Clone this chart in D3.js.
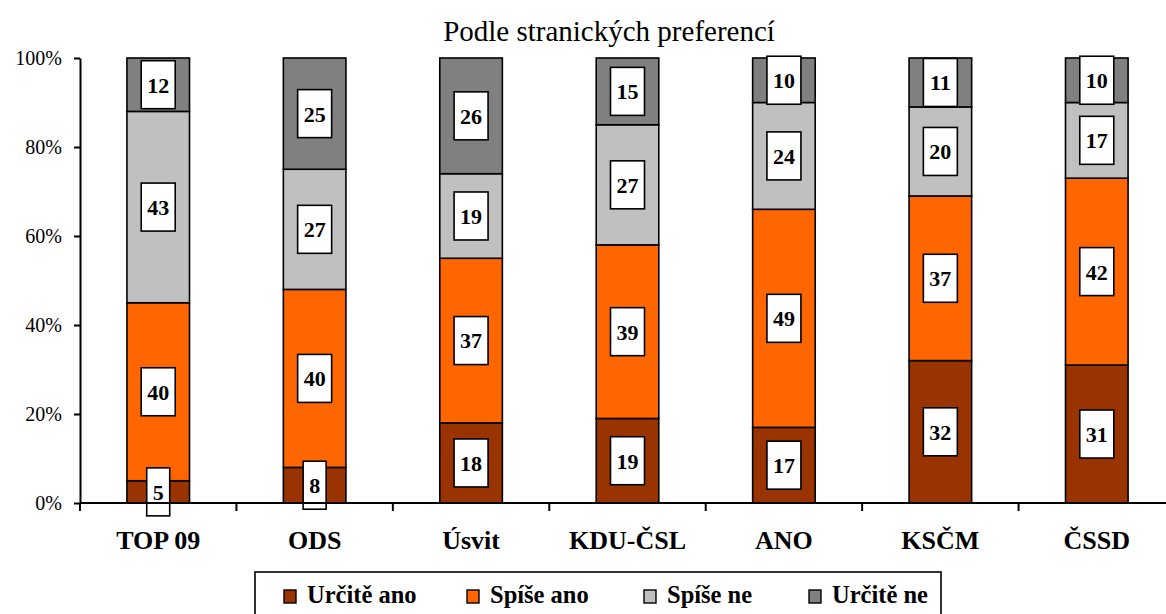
<!DOCTYPE html>
<html><head><meta charset="utf-8">
<script src="https://cdn.jsdelivr.net/npm/d3@7"></script>
<style>
html,body{margin:0;padding:0;background:#fff;}
svg{display:block;}
text{font-family:"Liberation Serif","Times New Roman",serif;}
</style></head>
<body>
<svg id="chart" width="1166" height="614"></svg>
<script>
const categories = ["TOP 09","ODS","Úsvit","KDU-ČSL","ANO","KSČM","ČSSD"];
const seriesNames = ["Určitě ano","Spíše ano","Spíše ne","Určitě ne"];
const seriesColors = ["#993300","#FF6600","#C0C0C0","#808080"];
const urciteAno = [5,8,18,19,17,32,31];
const spiseAno  = [40,40,37,39,49,37,42];
const spiseNe   = [43,27,19,27,24,20,17];
const urciteNe  = [12,25,26,15,10,11,10];
const yTicks = [0,0.2,0.4,0.6,0.8,1];
const subtitle = "Podle stranických preferencí";

const svg = d3.select("#chart");
const mLeft = 80, mRight = 1175, mTop = 58, mBottom = 503;

const rows = categories.map((c,i)=>({cat:c, "Určitě ano":urciteAno[i], "Spíše ano":spiseAno[i], "Spíše ne":spiseNe[i], "Určitě ne":urciteNe[i]}));
const stack = d3.stack().keys(seriesNames).offset(d3.stackOffsetExpand);
const series = stack(rows);

const x = d3.scaleBand().domain(categories).range([mLeft,mRight]).paddingInner(0.6).paddingOuter(0.3);
const y = d3.scaleLinear().domain([0,1]).range([mBottom,mTop]);
const color = d3.scaleOrdinal().domain(seriesNames).range(seriesColors);

// subtitle
svg.append("text").attr("x",609).attr("y",41).attr("text-anchor","middle")
  .attr("font-size",29).attr("fill","#000").text(subtitle);

// bars
const g = svg.append("g");
series.forEach(s=>{
  g.selectAll(null).data(s).enter().append("rect")
    .attr("x",d=>x(d.data.cat)).attr("width",x.bandwidth())
    .attr("y",d=>y(d[1])).attr("height",d=>y(d[0])-y(d[1]))
    .attr("fill",color(s.key)).attr("stroke","#000").attr("stroke-width",1.6);
});

// labels
series.forEach(s=>{
  s.forEach(d=>{
    const val = d.data[s.key];
    const cx = x(d.data.cat)+x.bandwidth()/2;
    const cy = (y(d[0])+y(d[1]))/2;
    const w = String(val).length>1 ? 34 : 23;
    const h = 48;
    g.append("rect").attr("x",cx-w/2).attr("y",cy-h/2).attr("width",w).attr("height",h)
      .attr("fill","#fff").attr("stroke","#000").attr("stroke-width",1.6);
    g.append("text").attr("x",cx).attr("y",cy).attr("dy","0.36em").attr("text-anchor","middle")
      .attr("font-size",22).attr("font-weight","bold").attr("fill","#000").text(val);
  });
});

// y axis
const yAxis = d3.axisLeft(y).tickValues(yTicks).tickFormat(d3.format(".0%")).tickSize(6).tickSizeOuter(0);
const ya = svg.append("g").attr("transform",`translate(${mLeft},0)`).call(yAxis);
ya.select(".domain").attr("stroke","#000").attr("stroke-width",2);
ya.selectAll(".tick line").attr("stroke","#000").attr("stroke-width",2);
ya.selectAll(".tick text").attr("font-family","Liberation Serif").attr("font-size",20).attr("fill","#000").attr("x",-18);

// x axis
svg.append("line").attr("x1",mLeft).attr("x2",mRight).attr("y1",mBottom).attr("y2",mBottom)
  .attr("stroke","#000").attr("stroke-width",2);
d3.range(categories.length+1).forEach(i=>{
  const xx = mLeft + i*x.step();
  svg.append("line").attr("x1",xx).attr("x2",xx).attr("y1",mBottom).attr("y2",mBottom+8)
    .attr("stroke","#000").attr("stroke-width",2);
});
svg.selectAll(".cat").data(categories).enter().append("text")
  .attr("x",d=>x(d)+x.bandwidth()/2).attr("y",549).attr("text-anchor","middle")
  .attr("font-size",26).attr("font-weight","bold").attr("fill","#000").text(d=>d);

// legend
svg.append("rect").attr("x",255).attr("y",572).attr("width",686).attr("height",60)
  .attr("fill","#fff").attr("stroke","#000").attr("stroke-width",1.6);
const legX = [284,467,644,809];
seriesNames.forEach((n,i)=>{
  svg.append("rect").attr("x",legX[i]).attr("y",590).attr("width",12).attr("height",13)
    .attr("fill",color(n)).attr("stroke","#000").attr("stroke-width",1.4);
  svg.append("text").attr("x",legX[i]+23).attr("y",603).attr("font-size",24.5).attr("font-weight","bold")
    .attr("fill","#000").text(n);
});
</script>
</body></html>
